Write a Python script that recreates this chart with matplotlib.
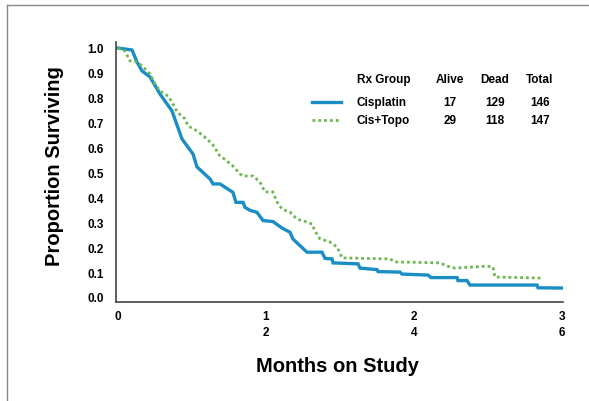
import matplotlib
matplotlib.use("Agg")
import matplotlib.pyplot as plt
from matplotlib.lines import Line2D

plt.rcParams['font.family'] = ['Liberation Sans', 'DejaVu Sans']
plt.rcParams['font.weight'] = 'bold'

# Kaplan-Meier style survival data (time in axis units, proportion surviving)
cis_t = [0.0, 0.047, 0.095, 0.128, 0.162, 0.216, 0.284, 0.365, 0.432, 0.507, 0.534,
         0.622, 0.642, 0.689, 0.777, 0.797, 0.845, 0.858, 0.892, 0.939, 0.98, 1.047,
         1.108, 1.162, 1.182, 1.23, 1.277, 1.378, 1.399, 1.446, 1.453, 1.622, 1.635,
         1.75, 1.757, 1.905, 1.919, 2.095, 2.115, 2.291, 2.297, 2.358, 2.378, 2.831,
         2.838, 3.0]
cis_s = [1.0, 0.996, 0.992, 0.944, 0.908, 0.884, 0.815, 0.747, 0.635, 0.574, 0.522,
         0.474, 0.454, 0.454, 0.42, 0.38, 0.38, 0.36, 0.348, 0.34, 0.307, 0.303,
         0.277, 0.26, 0.233, 0.206, 0.18, 0.18, 0.155, 0.153, 0.137, 0.133, 0.116,
         0.11, 0.102, 0.1, 0.092, 0.088, 0.078, 0.078, 0.066, 0.066, 0.048, 0.048,
         0.037, 0.036]

topo_t = [0.0, 0.047, 0.081, 0.128, 0.162, 0.216, 0.25, 0.284, 0.338, 0.365, 0.399,
          0.453, 0.473, 0.534, 0.601, 0.655, 0.676, 0.736, 0.777, 0.824, 0.845, 0.912,
          0.959, 0.993, 1.047, 1.074, 1.108, 1.162, 1.209, 1.277, 1.311, 1.331, 1.365,
          1.432, 1.48, 1.514, 1.838, 1.872, 2.176, 2.223, 2.277, 2.493, 2.534, 2.547,
          2.872]
topo_s = [1.0, 0.988, 0.948, 0.944, 0.928, 0.896, 0.855, 0.827, 0.807, 0.783, 0.743,
          0.715, 0.687, 0.667, 0.635, 0.602, 0.574, 0.546, 0.526, 0.494, 0.486, 0.486,
          0.462, 0.422, 0.422, 0.382, 0.353, 0.341, 0.313, 0.301, 0.293, 0.265, 0.233,
          0.221, 0.201, 0.157, 0.153, 0.141, 0.137, 0.124, 0.116, 0.124, 0.12, 0.08,
          0.076]

groups = ['Cisplatin', 'Cis+Topo']
alive = [17, 29]
dead = [129, 118]
total = [146, 147]

x_ticks = [0, 1, 2, 3]
x_ticklabels = ['0', '1\n2', '2\n4', '3\n6']
y_ticks = [0.0, 0.1, 0.2, 0.3, 0.4, 0.5, 0.6, 0.7, 0.8, 0.9, 1.0]

blue = '#1a8dc4'
green = '#6cb84e'

W, H = 589, 402
fig = plt.figure(figsize=(W / 100, H / 100), dpi=100)
ax = fig.add_axes([116 / W, 1 - 303 / H, (563 - 116) / W, (303 - 43) / H])

ax.plot(cis_t, cis_s, color=blue, lw=2.4, solid_joinstyle='miter')
ax.plot(topo_t, topo_s, color=green, lw=2.0, linestyle=(0, (1, 1.1)),
        dash_capstyle='butt')

ax.set_xlim(-2 / 148, (563 - 118) / 148)
ax.set_ylim((298 - 303) / 249, (298 - 43) / 249)

ax.set_xticks(x_ticks)
ax.set_xticklabels(x_ticklabels, fontsize=8.5, fontweight='bold', linespacing=1.45)
ax.set_yticks(y_ticks)
ax.set_yticklabels([f'{v:.1f}' for v in y_ticks], fontsize=8.5, fontweight='bold')
ax.tick_params(axis='both', length=0)
ax.tick_params(axis='y', pad=9)
ax.tick_params(axis='x', pad=6)

for s in ['top', 'right']:
    ax.spines[s].set_visible(False)
for s in ['left', 'bottom']:
    ax.spines[s].set_color('#444444')
    ax.spines[s].set_linewidth(1.2)

fig.text(55 / W, 1 - 166 / H, 'Proportion Surviving', rotation=90, ha='center',
         va='center', fontsize=14.5, fontweight='bold')
fig.text(338 / W, 1 - 367 / H, 'Months on Study', ha='center', va='center',
         fontsize=14.5, fontweight='bold')

# legend table
fs = 8.5
def fx(px):
    return px / W
def fy(py):
    return 1 - py / H

fig.text(fx(357), fy(80), 'Rx Group', ha='left', va='center', fontsize=fs, fontweight='bold')
fig.text(fx(450), fy(80), 'Alive', ha='center', va='center', fontsize=fs, fontweight='bold')
fig.text(fx(495), fy(80), 'Dead', ha='center', va='center', fontsize=fs, fontweight='bold')
fig.text(fx(540), fy(80), 'Total', ha='center', va='center', fontsize=fs, fontweight='bold')

rows_y = [103, 121]
styles = [dict(color=blue, lw=2.4),
          dict(color=green, lw=2.0, linestyle=(0, (1, 1.1)), dash_capstyle='butt')]
for i, g in enumerate(groups):
    yy = rows_y[i]
    fig.add_artist(Line2D([fx(312), fx(341)], [fy(yy - 0.5), fy(yy - 0.5)], **styles[i]))
    fig.text(fx(357), fy(yy), g, ha='left', va='center', fontsize=fs, fontweight='bold')
    fig.text(fx(450), fy(yy), str(alive[i]), ha='center', va='center', fontsize=fs, fontweight='bold')
    fig.text(fx(495), fy(yy), str(dead[i]), ha='center', va='center', fontsize=fs, fontweight='bold')
    fig.text(fx(540), fy(yy), str(total[i]), ha='center', va='center', fontsize=fs, fontweight='bold')

# frame lines (top and left)
fig.add_artist(Line2D([fx(7), 1.0], [fy(6), fy(6)], color='#888888', lw=1.0))
fig.add_artist(Line2D([fx(7), fx(7)], [fy(6), 0.0], color='#888888', lw=1.0))

fig.savefig('out.png', dpi=100)
